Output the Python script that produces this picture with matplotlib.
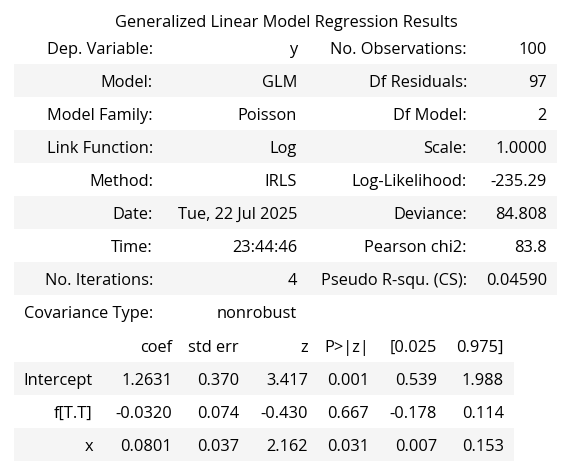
import matplotlib

matplotlib.use("Agg")
import matplotlib.pyplot as plt
from matplotlib.patches import Rectangle

TITLE = "Generalized Linear Model Regression Results"

left_labels = [
    "Dep. Variable:", "Model:", "Model Family:", "Link Function:", "Method:",
    "Date:", "Time:", "No. Iterations:", "Covariance Type:",
]
left_values = [
    "y", "GLM", "Poisson", "Log", "IRLS",
    "Tue, 22 Jul 2025", "23:44:46", "4", "nonrobust",
]
right_labels = [
    "No. Observations:", "Df Residuals:", "Df Model:", "Scale:", "Log-Likelihood:",
    "Deviance:", "Pearson chi2:", "Pseudo R-squ. (CS):",
]
right_values = ["100", "97", "2", "1.0000", "-235.29", "84.808", "83.8", "0.04590"]

coef_headers = ["coef", "std err", "z", "P>|z|", "[0.025", "0.975]"]
param_names = ["Intercept", "f[T.T]", "x"]
coef = ["1.2631", "-0.0320", "0.0801"]
std_err = ["0.370", "0.074", "0.037"]
z_vals = ["3.417", "-0.430", "2.162"]
p_vals = ["0.001", "0.667", "0.031"]
ci_low = ["0.539", "-0.178", "0.007"]
ci_high = ["1.988", "0.114", "0.153"]

W, H = 568, 469
ROW_H = 33
STRIPE = "#f5f5f5"
FONT = ["Open Sans", "DejaVu Sans"]
FS = 11.8

fig = plt.figure(figsize=(W / 100, H / 100), dpi=100)
ax = fig.add_axes([0, 0, 1, 1])
ax.set_xlim(0, W)
ax.set_ylim(H, 0)
ax.axis("off")


def txt(x, y, s, ha="right"):
    ax.text(x, y, s, ha=ha, va="center_baseline", fontsize=FS, family=FONT, color="black")


def stripe(y, x0, x1):
    ax.add_patch(Rectangle((x0, y - ROW_H / 2), x1 - x0, ROW_H, facecolor=STRIPE, edgecolor="none"))


txt(286, 21, TITLE, ha="center")

# top table
y0 = 48
for i, (lab, val) in enumerate(zip(left_labels, left_values)):
    y = y0 + i * ROW_H
    if i % 2 == 1:
        stripe(y, 14, 557)
    txt(153, y, lab)
    txt(297, y, val)
    if i < len(right_labels):
        txt(467, y, right_labels[i])
        txt(547, y, right_values[i])

# coefficient table
col_x = [172, 239, 308, 369, 437, 504]
yh = y0 + len(left_labels) * ROW_H + 1
for x, h in zip(col_x, coef_headers):
    txt(x, yh, h)
columns = [coef, std_err, z_vals, p_vals, ci_low, ci_high]
for r, name in enumerate(param_names):
    y = yh + (r + 1) * ROW_H
    if r % 2 == 0:
        stripe(y, 14, 514)
    txt(93, y, name)
    for x, col in zip(col_x, columns):
        txt(x, y, col[r])

fig.savefig("out.png", dpi=100)
plt.close(fig)
